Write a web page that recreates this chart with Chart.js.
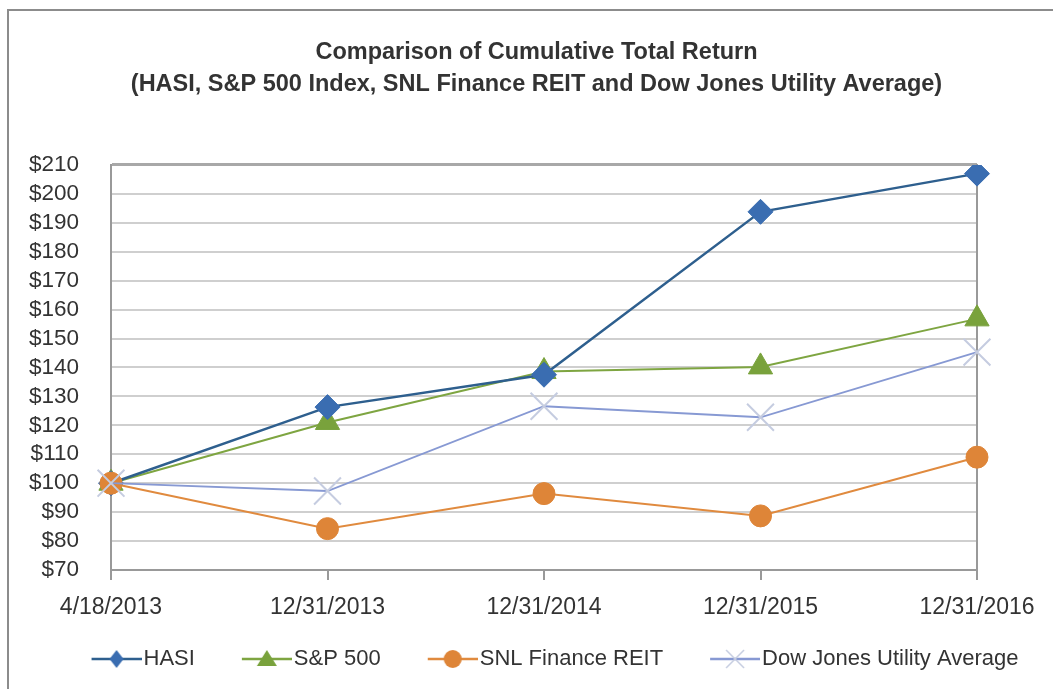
<!DOCTYPE html>
<html>
<head>
<meta charset="utf-8">
<script src="https://cdn.jsdelivr.net/npm/chart.js@4.4.1/dist/chart.umd.min.js"></script>
<style>
  html, body { margin: 0; padding: 0; background: #fff; overflow: hidden; }
  #frame { position: absolute; left: 7px; top: 9px; width: 1100px; height: 720px;
           border-left: 2px solid #8c8c8c; border-top: 2px solid #8c8c8c; }
  #wrap { position: absolute; left: 0; top: 0; width: 1053px; height: 689px; }
</style>
</head>
<body>
<div id="frame"></div>
<div id="wrap"><canvas id="chart"></canvas></div>
<script>
// data
const dates = ['4/18/2013', '12/31/2013', '12/31/2014', '12/31/2015', '12/31/2016'];
const hasi = [100, 126.3, 137.5, 193.8, 207.0];
const sp500 = [100, 121.0, 138.6, 140.2, 156.8];
const snlReit = [100, 84.3, 96.4, 88.7, 109.0];
const dowUtil = [100, 97.3, 126.6, 122.8, 145.3];

const FONT = "'Liberation Sans', Arial, Helvetica, sans-serif";
const TEXT = '#333333';
const LEG_W = 78;

// small line + marker icons for the legend
function legendIcon(lineColor, markColor, mark) {
  const c = document.createElement('canvas');
  c.width = LEG_W + 18;
  c.height = 30;
  const g = c.getContext('2d');
  const x1 = c.width - 50, x2 = c.width, cy = 15, cx = (x1 + x2) / 2;
  g.strokeStyle = lineColor;
  g.lineWidth = 2.5;
  g.beginPath(); g.moveTo(x1, cy); g.lineTo(x2, cy); g.stroke();
  g.fillStyle = markColor;
  g.strokeStyle = markColor;
  g.beginPath();
  if (mark === 'diamond') {
    g.moveTo(cx, cy - 9); g.lineTo(cx + 7, cy); g.lineTo(cx, cy + 9); g.lineTo(cx - 7, cy);
    g.closePath(); g.fill();
  } else if (mark === 'triangle') {
    g.moveTo(cx, cy - 9); g.lineTo(cx + 10, cy + 7); g.lineTo(cx - 10, cy + 7);
    g.closePath(); g.fill();
  } else if (mark === 'circle') {
    g.arc(cx, cy, 9, 0, Math.PI * 2); g.fill();
  } else {
    g.lineWidth = 1.5;
    g.moveTo(cx - 9, cy - 9); g.lineTo(cx + 9, cy + 9);
    g.moveTo(cx + 9, cy - 9); g.lineTo(cx - 9, cy + 9);
    g.stroke();
  }
  return c;
}

const icons = [
  legendIcon('#2e5f8e', '#3a6db1', 'diamond'),
  legendIcon('#7ea541', '#79a23c', 'triangle'),
  legendIcon('#e08a3e', '#de8538', 'circle'),
  legendIcon('#8799d3', '#c5cce0', 'cross')
];

Chart.defaults.font.family = FONT;
Chart.defaults.color = TEXT;

new Chart(document.getElementById('chart'), {
  type: 'line',
  data: {
    labels: dates,
    datasets: [
      {
        label: 'HASI',
        data: hasi,
        borderColor: '#2e5f8e',
        borderWidth: 2.5,
        pointStyle: 'rectRot',
        pointRadius: 12.5,
        pointBackgroundColor: '#3a6db1',
        pointBorderColor: '#3a6db1',
        pointBorderWidth: 1,
        order: 2
      },
      {
        label: 'S&P 500',
        data: sp500,
        borderColor: '#7ea541',
        borderWidth: 2,
        pointStyle: 'triangle',
        pointRadius: 14,
        pointBackgroundColor: '#79a23c',
        pointBorderColor: '#79a23c',
        pointBorderWidth: 1,
        order: 3
      },
      {
        label: 'SNL Finance REIT',
        data: snlReit,
        borderColor: '#e08a3e',
        borderWidth: 2,
        pointStyle: 'circle',
        pointRadius: 11,
        pointBackgroundColor: '#de8538',
        pointBorderColor: '#de8538',
        pointBorderWidth: 1,
        order: 1
      },
      {
        label: 'Dow Jones Utility Average',
        data: dowUtil,
        borderColor: '#8799d3',
        borderWidth: 1.8,
        pointStyle: 'crossRot',
        pointRadius: 19,
        pointBackgroundColor: '#c5cce0',
        pointBorderColor: '#c5cce0',
        pointBorderWidth: 2,
        order: 0
      }
    ]
  },
  options: {
    responsive: true,
    maintainAspectRatio: false,
    animation: false,
    layout: { padding: { left: 20, right: 0, top: 0, bottom: 9 } },
    plugins: {
      tooltip: { enabled: false },
      title: {
        display: true,
        text: ['Comparison of Cumulative Total Return',
               '(HASI, S&P 500 Index, SNL Finance REIT and Dow Jones Utility Average)'],
        font: { size: 23.5, weight: 'bold', lineHeight: 1.35 },
        color: TEXT,
        padding: { top: 37, bottom: 64.5 }
      },
      legend: {
        position: 'bottom',
        labels: {
          usePointStyle: true,
          pointStyleWidth: LEG_W,
          padding: 10,
          color: TEXT,
          font: { size: 22 },
          sort: (a, b) => a.datasetIndex - b.datasetIndex,
          generateLabels: chart => {
            const items = Chart.defaults.plugins.legend.labels.generateLabels(chart);
            items.forEach(it => { it.pointStyle = icons[it.datasetIndex]; });
            return items;
          }
        }
      }
    },
    scales: {
      x: {
        offset: false,
        afterFit: s => { s.height = 68; },
        grid: { drawOnChartArea: false, drawTicks: true, tickLength: 10, color: '#999999', lineWidth: 2 },
        border: { color: '#999999', width: 2 },
        ticks: { padding: 14, font: { size: 23 }, color: TEXT, maxRotation: 0, autoSkip: false }
      },
      y: {
        min: 70,
        max: 210,
        afterFit: s => { s.width = 91; },
        grid: {
          drawTicks: false,
          color: c => (c.tick && c.tick.value === 210 ? '#a8a8a8' : '#cfcfcf'),
          lineWidth: c => (c.tick && c.tick.value === 210 ? 3 : 2)
        },
        border: { color: '#999999', width: 2 },
        ticks: {
          stepSize: 10,
          autoSkip: false,
          padding: 32,
          font: { size: 22.5 },
          color: TEXT,
          callback: v => '$' + v
        }
      },
      right: {
        position: 'right',
        min: 70,
        max: 210,
        afterFit: s => { s.width = 76; },
        ticks: { display: false },
        grid: { drawOnChartArea: false, drawTicks: false },
        border: { color: '#999999', width: 2 }
      }
    }
  }
});
</script>
</body>
</html>
